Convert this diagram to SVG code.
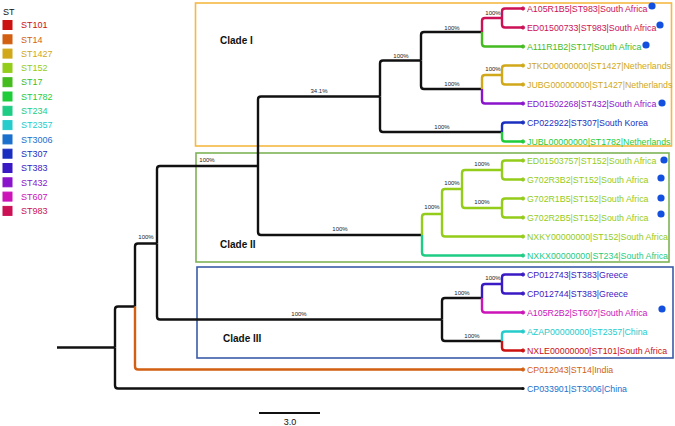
<svg xmlns="http://www.w3.org/2000/svg" width="675" height="426" viewBox="0 0 675 426">
<style>
text{font-family:"Liberation Sans",Arial,sans-serif}
.leg{font-size:9px}
.tip{font-size:8.8px}
.bs{font-size:6px;fill:#222;text-anchor:middle}
.clade{font-size:10px;font-weight:bold;fill:#111}
.e{fill:none;stroke-width:2.4;stroke-linejoin:round}
.k{stroke:#111}
.box{fill:none;stroke-width:1.6}
.mk{fill:#1450e0}
.c983{fill:#cc1155;stroke:#cc1155}
.c17{fill:#44bb1f;stroke:#44bb1f}
.c1427{fill:#d0a81a;stroke:#d0a81a}
.c432{fill:#8a14cc;stroke:#8a14cc}
.c307{fill:#1a2fc0;stroke:#1a2fc0}
.c1782{fill:#1fcc3a;stroke:#1fcc3a}
.c152{fill:#94cc1a;stroke:#94cc1a}
.c234{fill:#1ecc84;stroke:#1ecc84}
.c383{fill:#3a1ac4;stroke:#3a1ac4}
.c607{fill:#cc14b8;stroke:#cc14b8}
.c2357{fill:#26cccc;stroke:#26cccc}
.c101{fill:#cc1111;stroke:#cc1111}
.c14{fill:#d25f12;stroke:#d25f12}
.c3006{fill:#1a70cc;stroke:#1a70cc}
text.c983,text.c17,text.c1427,text.c432,text.c307,text.c1782,text.c152,text.c234,text.c383,text.c607,text.c2357,text.c101,text.c14,text.c3006{stroke:none}
path.e{fill:none}
</style>
<rect width="675" height="426" fill="#fff"/>

<g id="legend">
<text x="3" y="15" class="leg" fill="#111">ST</text>
<rect x="3" y="20.5" width="9" height="9" class="c101"/><text x="21" y="28.2" class="leg c101">ST101</text>
<rect x="3" y="34.8" width="9" height="9" class="c14"/><text x="21" y="42.5" class="leg c14">ST14</text>
<rect x="3" y="49.1" width="9" height="9" class="c1427"/><text x="21" y="56.8" class="leg c1427">ST1427</text>
<rect x="3" y="63.4" width="9" height="9" class="c152"/><text x="21" y="71.1" class="leg c152">ST152</text>
<rect x="3" y="77.7" width="9" height="9" class="c17"/><text x="21" y="85.4" class="leg c17">ST17</text>
<rect x="3" y="92" width="9" height="9" class="c1782"/><text x="21" y="99.7" class="leg c1782">ST1782</text>
<rect x="3" y="106.3" width="9" height="9" class="c234"/><text x="21" y="114" class="leg c234">ST234</text>
<rect x="3" y="120.6" width="9" height="9" class="c2357"/><text x="21" y="128.3" class="leg c2357">ST2357</text>
<rect x="3" y="134.9" width="9" height="9" class="c3006"/><text x="21" y="142.6" class="leg c3006">ST3006</text>
<rect x="3" y="149.2" width="9" height="9" class="c307"/><text x="21" y="156.9" class="leg c307">ST307</text>
<rect x="3" y="163.5" width="9" height="9" class="c383"/><text x="21" y="171.2" class="leg c383">ST383</text>
<rect x="3" y="177.8" width="9" height="9" class="c432"/><text x="21" y="185.5" class="leg c432">ST432</text>
<rect x="3" y="192.1" width="9" height="9" class="c607"/><text x="21" y="199.8" class="leg c607">ST607</text>
<rect x="3" y="206.4" width="9" height="9" class="c983"/><text x="21" y="214.1" class="leg c983">ST983</text>
</g>

<g id="clade-I"><rect x="195.5" y="3" width="476" height="143" class="box" stroke="#f5b942"/><text x="220" y="44" class="clade">Clade I</text></g>
<g id="clade-II"><rect x="196" y="153" width="473" height="109" class="box" stroke="#7db356"/><text x="220" y="248" class="clade">Clade II</text></g>
<g id="clade-III"><rect x="197" y="267" width="476" height="91" class="box" stroke="#3a5ca8"/><text x="223" y="342" class="clade">Clade III</text></g>

<g id="connectors">
<path class="e k" d="M57 347.5 H115"/>
<path class="e k" d="M115 347.5 V309.5 Q115 306.5 118 306.5 H135"/>
<path class="e k" d="M115 347.5 V385.5 Q115 388.5 118 388.5 H523"/>
<path class="e k" d="M135 306.5 V246.5 Q135 243.5 138 243.5 H157"/>
<path class="e c14" d="M135 306.5 V366.5 Q135 369.5 138 369.5 H523"/>
<path class="e k" d="M157 243.5 V169 Q157 166 160 166 H258"/>
<path class="e k" d="M157 243.5 V316.5 Q157 319.5 160 319.5 H442"/>
<path class="e k" d="M258 166 V99.5 Q258 96.5 261 96.5 H380"/>
<path class="e k" d="M258 166 V232 Q258 235 261 235 H422"/>
<path class="e k" d="M380 96.5 V63.5 Q380 60.5 383 60.5 H421"/>
<path class="e k" d="M380 96.5 V129 Q380 132 383 132 H502"/>
<path class="e k" d="M421 60.5 V35 Q421 32 424 32 H482"/>
<path class="e k" d="M421 60.5 V86 Q421 89 424 89 H482"/>
<path class="e c983" d="M482 32 V21 Q482 18 485 18 H502"/>
<path class="e c17" d="M482 32 V43.5 Q482 46.5 485 46.5 H523"/>
<path class="e c983" d="M502 18 V11.5 Q502 8.5 505 8.5 H523"/>
<path class="e c983" d="M502 18 V24.5 Q502 27.5 505 27.5 H523"/>
<path class="e c1427" d="M482 89 V78 Q482 75 485 75 H502"/>
<path class="e c432" d="M482 89 V100.5 Q482 103.5 485 103.5 H523"/>
<path class="e c1427" d="M502 75 V68.5 Q502 65.5 505 65.5 H523"/>
<path class="e c1427" d="M502 75 V81.5 Q502 84.5 505 84.5 H523"/>
<path class="e c307" d="M502 132 V125.5 Q502 122.5 505 122.5 H523"/>
<path class="e c1782" d="M502 132 V138.5 Q502 141.5 505 141.5 H523"/>
<path class="e c152" d="M422 235 V217 Q422 214 425 214 H442"/>
<path class="e c234" d="M422 235 V252.5 Q422 255.5 425 255.5 H523"/>
<path class="e c152" d="M442 214 V192 Q442 189 445 189 H462"/>
<path class="e c152" d="M442 214 V233.5 Q442 236.5 445 236.5 H523"/>
<path class="e c152" d="M462 189 V173 Q462 170 465 170 H502"/>
<path class="e c152" d="M462 189 V205 Q462 208 465 208 H502"/>
<path class="e c152" d="M502 170 V163.5 Q502 160.5 505 160.5 H523"/>
<path class="e c152" d="M502 170 V176.5 Q502 179.5 505 179.5 H523"/>
<path class="e c152" d="M502 208 V201.5 Q502 198.5 505 198.5 H523"/>
<path class="e c152" d="M502 208 V214.5 Q502 217.5 505 217.5 H523"/>
<path class="e k" d="M442 319.5 V301 Q442 298 445 298 H482"/>
<path class="e k" d="M442 319.5 V338 Q442 341 445 341 H502"/>
<path class="e c383" d="M482 298 V287 Q482 284 485 284 H502"/>
<path class="e c607" d="M482 298 V309.5 Q482 312.5 485 312.5 H523"/>
<path class="e c383" d="M502 284 V277.5 Q502 274.5 505 274.5 H523"/>
<path class="e c383" d="M502 284 V290.5 Q502 293.5 505 293.5 H523"/>
<path class="e c2357" d="M502 341 V334.5 Q502 331.5 505 331.5 H523"/>
<path class="e c101" d="M502 341 V347.5 Q502 350.5 505 350.5 H523"/>
</g>

<g id="support">
<text x="493" y="15" class="bs">100%</text>
<text x="493" y="71" class="bs">100%</text>
<text x="452" y="30" class="bs">100%</text>
<text x="452" y="86" class="bs">100%</text>
<text x="401" y="58" class="bs">100%</text>
<text x="442" y="129" class="bs">100%</text>
<text x="319" y="93" class="bs">34.1%</text>
<text x="340" y="231" class="bs">100%</text>
<text x="432" y="209" class="bs">100%</text>
<text x="452" y="185" class="bs">100%</text>
<text x="482" y="166" class="bs">100%</text>
<text x="482" y="204" class="bs">100%</text>
<text x="207" y="162" class="bs">100%</text>
<text x="146" y="239" class="bs">100%</text>
<text x="299" y="316" class="bs">100%</text>
<text x="462" y="295" class="bs">100%</text>
<text x="472" y="338" class="bs">100%</text>
<text x="493" y="280" class="bs">100%</text>
</g>

<g id="tip-A105R1B5"><circle cx="523" cy="8.5" r="1.6" class="c983"/><text x="527" y="11.7" class="tip c983">A105R1B5|ST983|South Africa</text><circle cx="652" cy="6" r="3.6" class="mk"/></g>
<g id="tip-ED01500733"><circle cx="523" cy="27.5" r="1.6" class="c983"/><text x="527" y="30.7" class="tip c983">ED01500733|ST983|South Africa</text><circle cx="660" cy="25" r="3.6" class="mk"/></g>
<g id="tip-A111R1B2"><circle cx="523" cy="46.5" r="1.6" class="c17"/><text x="527" y="49.7" class="tip c17">A111R1B2|ST17|South Africa</text><circle cx="646" cy="45" r="3.6" class="mk"/></g>
<g id="tip-JTKD"><circle cx="523" cy="65.5" r="1.6" class="c1427"/><text x="527" y="68.7" class="tip c1427">JTKD00000000|ST1427|Netherlands</text></g>
<g id="tip-JUBG"><circle cx="523" cy="84.5" r="1.6" class="c1427"/><text x="527" y="87.7" class="tip c1427">JUBG00000000|ST1427|Netherlands</text></g>
<g id="tip-ED01502268"><circle cx="523" cy="103.5" r="1.6" class="c432"/><text x="527" y="106.7" class="tip c432">ED01502268|ST432|South Africa</text><circle cx="662" cy="103" r="3.6" class="mk"/></g>
<g id="tip-CP022922"><circle cx="523" cy="122.5" r="1.6" class="c307"/><text x="527" y="125.7" class="tip c307">CP022922|ST307|South Korea</text></g>
<g id="tip-JUBL"><circle cx="523" cy="141.5" r="1.6" class="c1782"/><text x="527" y="144.7" class="tip c1782">JUBL00000000|ST1782|Netherlands</text></g>
<g id="tip-ED01503757"><circle cx="523" cy="160.5" r="1.6" class="c152"/><text x="527" y="163.7" class="tip c152">ED01503757|ST152|South Africa</text><circle cx="664" cy="160" r="3.6" class="mk"/></g>
<g id="tip-G702R3B2"><circle cx="523" cy="179.5" r="1.6" class="c152"/><text x="527" y="182.7" class="tip c152">G702R3B2|ST152|South Africa</text><circle cx="661" cy="178" r="3.6" class="mk"/></g>
<g id="tip-G702R1B5"><circle cx="523" cy="198.5" r="1.6" class="c152"/><text x="527" y="201.7" class="tip c152">G702R1B5|ST152|South Africa</text><circle cx="661" cy="198" r="3.6" class="mk"/></g>
<g id="tip-G702R2B5"><circle cx="523" cy="217.5" r="1.6" class="c152"/><text x="527" y="220.7" class="tip c152">G702R2B5|ST152|South Africa</text><circle cx="661" cy="214" r="3.6" class="mk"/></g>
<g id="tip-NXKY"><circle cx="523" cy="236.5" r="1.6" class="c152"/><text x="527" y="239.7" class="tip c152">NXKY00000000|ST152|South Africa</text></g>
<g id="tip-NXKX"><circle cx="523" cy="255.5" r="1.6" class="c234"/><text x="527" y="258.7" class="tip c234">NXKX00000000|ST234|South Africa</text></g>
<g id="tip-CP012743"><circle cx="523" cy="274.5" r="1.6" class="c383"/><text x="527" y="277.7" class="tip c383">CP012743|ST383|Greece</text></g>
<g id="tip-CP012744"><circle cx="523" cy="293.5" r="1.6" class="c383"/><text x="527" y="296.7" class="tip c383">CP012744|ST383|Greece</text></g>
<g id="tip-A105R2B2"><circle cx="523" cy="312.5" r="1.6" class="c607"/><text x="527" y="315.7" class="tip c607">A105R2B2|ST607|South Africa</text><circle cx="662" cy="309" r="3.6" class="mk"/></g>
<g id="tip-AZAP"><circle cx="523" cy="331.5" r="1.6" class="c2357"/><text x="527" y="334.7" class="tip c2357">AZAP00000000|ST2357|China</text></g>
<g id="tip-NXLE"><circle cx="523" cy="350.5" r="1.6" class="c101"/><text x="527" y="353.7" class="tip c101">NXLE00000000|ST101|South Africa</text></g>
<g id="tip-CP012043"><circle cx="523" cy="369.5" r="1.6" class="c14"/><text x="527" y="372.7" class="tip c14">CP012043|ST14|India</text></g>
<g id="tip-CP033901"><circle cx="523" cy="388.5" r="1.6" fill="#111"/><text x="527" y="391.7" class="tip c3006">CP033901|ST3006|China</text></g>

<g id="scale">
<line x1="259" y1="413" x2="320" y2="413" stroke="#111" stroke-width="2"/>
<text x="290" y="425" font-size="9" text-anchor="middle" fill="#111">3.0</text>
</g>
</svg>
